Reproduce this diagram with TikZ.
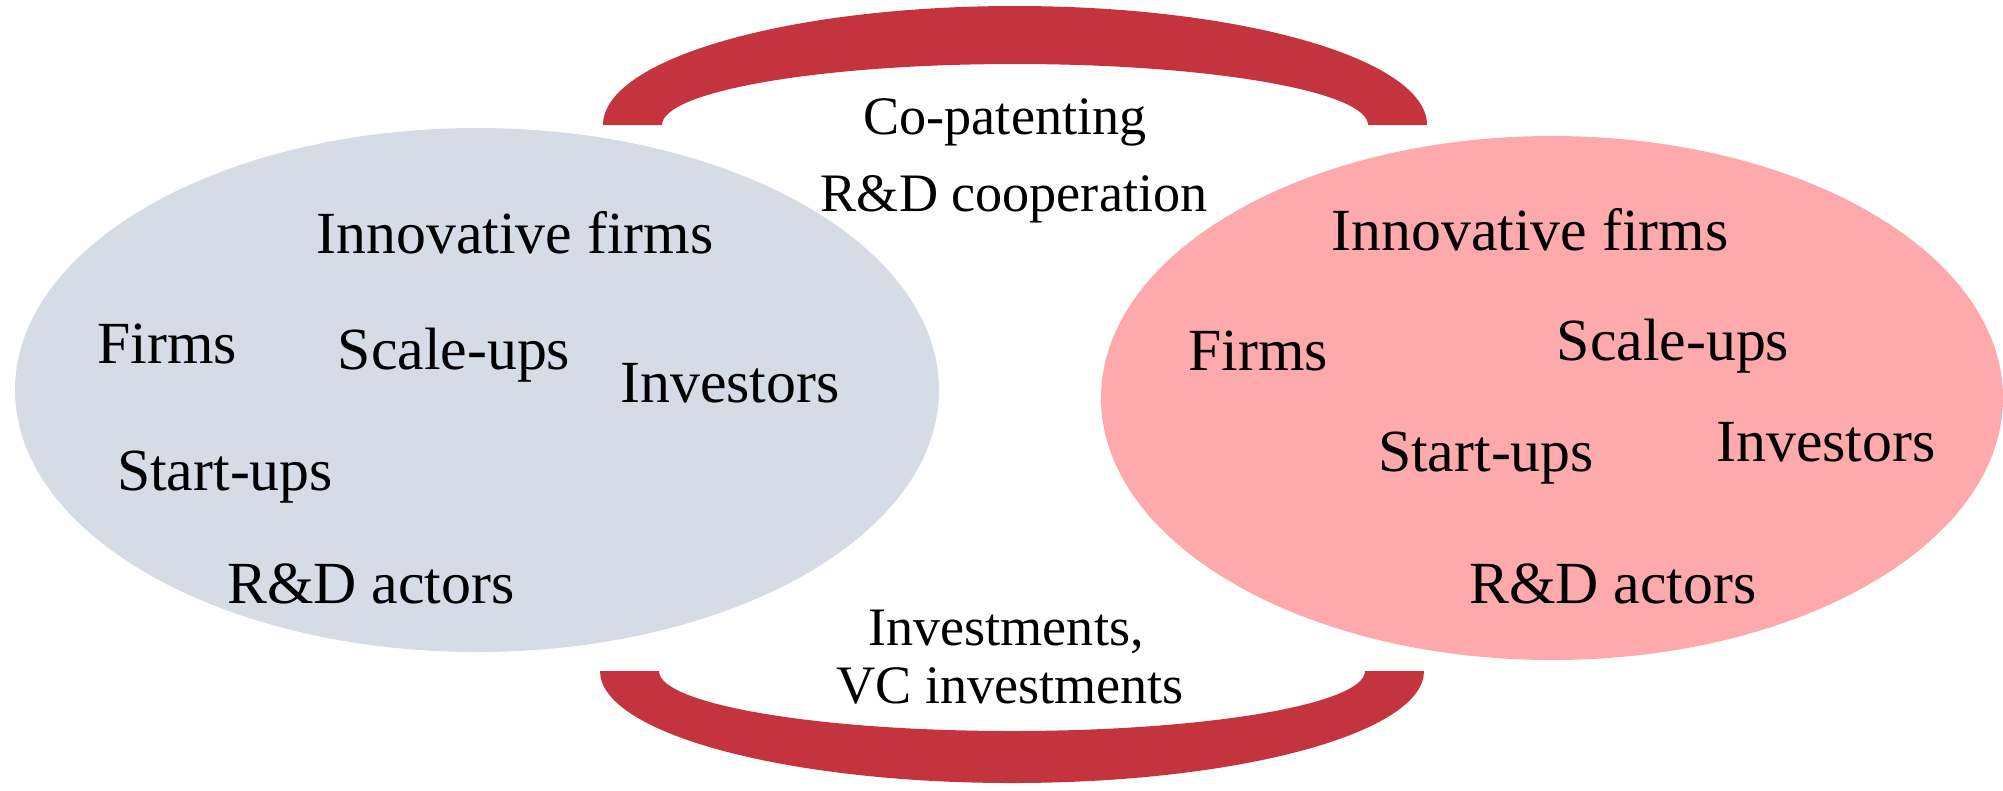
\documentclass[tikz,border=0pt]{standalone}
\usepackage{fontspec}
\setmainfont{Liberation Serif}
\definecolor{linkred}{HTML}{C3343F}
\definecolor{leftfill}{HTML}{D6DCE5}
\definecolor{rightfill}{HTML}{FEA9AB}
\begin{document}
\begin{tikzpicture}[x=0.01cm,y=0.01cm,
    actor/.style={anchor=base,inner sep=0pt,font=\fontsize{17}{20}\selectfont},
    link/.style={anchor=base,inner sep=0pt,font=\fontsize{15.4}{18}\selectfont}]
  \useasboundingbox (0,0) rectangle (2003,-790);
  % the two regions
  \fill[leftfill] (477,-390) ellipse [x radius=462, y radius=262];
  \fill[rightfill] (1552,-398) ellipse [x radius=451, y radius=262];
  % the two bands
  \fill[linkred] (603,-125) arc[start angle=180, end angle=0, x radius=412, y radius=119]
    -- (1368,-125) arc[start angle=0, end angle=180, x radius=353, y radius=61] -- cycle;
  \fill[linkred] (600,-671) arc[start angle=180, end angle=360, x radius=412, y radius=112]
    -- (1365,-671) arc[start angle=360, end angle=180, x radius=353, y radius=60] -- cycle;
  % left region
  \node[actor] (l-inno) at (515,-253) {Innovative firms};
  \node[actor] (l-firms) at (167,-363) {Firms};
  \node[actor] (l-scale) at (454,-369) {Scale-ups};
  \node[actor] (l-inv) at (730,-402) {Investors};
  \node[actor] (l-start) at (225,-490) {Start-ups};
  \node[actor] (l-rd) at (371,-603) {R\&D actors};
  % right region
  \node[actor] (r-inno) at (1530,-250) {Innovative firms};
  \node[actor] (r-firms) at (1258,-370) {Firms};
  \node[actor] (r-scale) at (1673,-360) {Scale-ups};
  \node[actor] (r-start) at (1486,-471) {Start-ups};
  \node[actor] (r-inv) at (1826,-461) {Investors};
  \node[actor] (r-rd) at (1613,-603) {R\&D actors};
  % links
  \node[link] (copat) at (1005,-134) {Co-patenting};
  \node[link] (coop) at (1014,-211) {R\&D cooperation};
  \node[link] (invest) at (1006,-645) {Investments,};
  \node[link] (vc) at (1010,-703) {VC investments};
\end{tikzpicture}
\end{document}
